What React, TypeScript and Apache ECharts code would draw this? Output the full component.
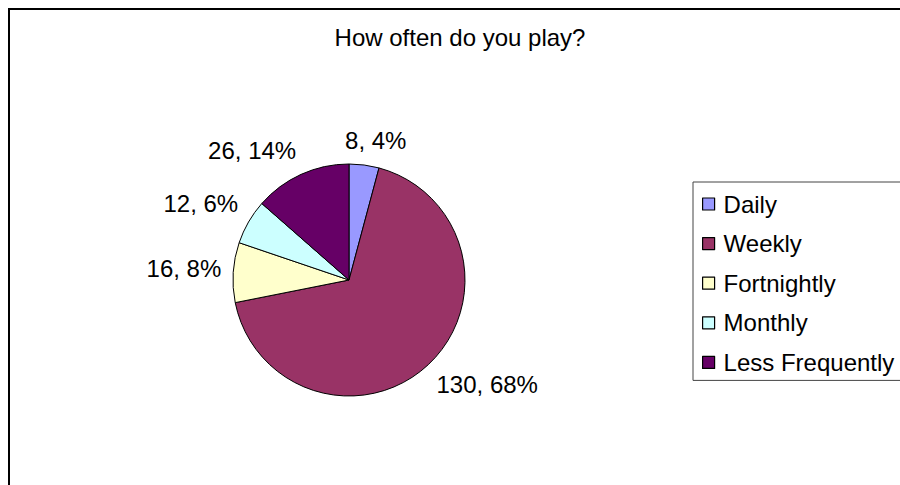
import React, { useEffect, useRef } from "react";
import * as echarts from "echarts";

const categories = ["Daily", "Weekly", "Fortnightly", "Monthly", "Less Frequently"];
const counts = [8, 130, 16, 12, 26];
const colors = ["#9999FF", "#993366", "#FFFFCC", "#CCFFFF", "#660066"];
const titleText = "How often do you play?";

const FONT = "'Liberation Sans', Arial, sans-serif";
const CX = 341;
const CY = 272;
const R = 116;
const GAP = 12;

export default function App() {
  const ref = useRef<HTMLDivElement>(null);
  useEffect(() => {
    if (!ref.current) return;
    const chart = echarts.init(ref.current, undefined, { renderer: "svg" });
    const total = counts.reduce((a, b) => a + b, 0);
    const clamp = (v: number) => Math.max(-1, Math.min(1, v));
    chart.setOption({
      animation: false,
      backgroundColor: "#fff",
      title: {
        text: titleText,
        left: 447,
        top: 12,
        textAlign: "center",
        textStyle: { fontFamily: FONT, fontSize: 24, fontWeight: "normal", color: "#000" },
      },
      legend: {
        orient: "vertical",
        left: 685,
        top: 174,
        padding: [9, 30, 5, 9],
        borderColor: "#444",
        borderWidth: 1,
        itemWidth: 12,
        itemHeight: 12,
        itemGap: 13.6,
        icon: "rect",
        itemStyle: { borderColor: "#000", borderWidth: 1.2 },
        textStyle: { fontFamily: FONT, fontSize: 24, color: "#000", lineHeight: 26, padding: [0, 0, 0, 4] },
        data: categories,
      },
      graphic: [
        {
          type: "rect",
          shape: { x: 1, y: 1, width: 2000, height: 2000 },
          style: { fill: "none", stroke: "#000", lineWidth: 2 },
          silent: true,
        },
      ],
      series: [
        {
          type: "pie",
          center: [CX, CY],
          radius: R,
          startAngle: 90,
          clockwise: true,
          avoidLabelOverlap: false,
          itemStyle: { borderColor: "#000", borderWidth: 1 },
          emphasis: { disabled: true },
          labelLine: { show: false, length: 0, length2: 0 },
          label: {
            show: true,
            position: "outside",
            fontFamily: FONT,
            fontSize: 24,
            lineHeight: 24,
            color: "#000",
            formatter: (p: any) => `${p.value}, ${Math.round(p.percent)}%`,
          },
          labelLayout: (params: any) => {
            const i = params.dataIndex;
            let start = 0;
            for (let k = 0; k < i; k++) start += counts[k];
            const mid = ((start + counts[i] / 2) / total) * Math.PI * 2;
            const dx = Math.sin(mid);
            const dy = -Math.cos(mid);
            const w = params.labelRect.width;
            const h = params.labelRect.height;
            const kf = 2.5;
            return {
              x: CX + dx * (R + GAP) + (clamp(dx * kf) * w) / 2,
              y: CY + dy * (R + GAP) + (clamp(dy * kf) * h) / 2 - 1,
              align: "center",
              verticalAlign: "middle",
            };
          },
          data: categories.map((name, i) => ({
            name,
            value: counts[i],
            itemStyle: { color: colors[i] },
          })),
        },
      ],
    });
    return () => chart.dispose();
  }, []);
  return (
    <div style={{ position: "absolute", left: 8, top: 8, width: 892, height: 477, overflow: "hidden" }}>
      <div ref={ref} style={{ width: 1000, height: 477 }} />
    </div>
  );
}
